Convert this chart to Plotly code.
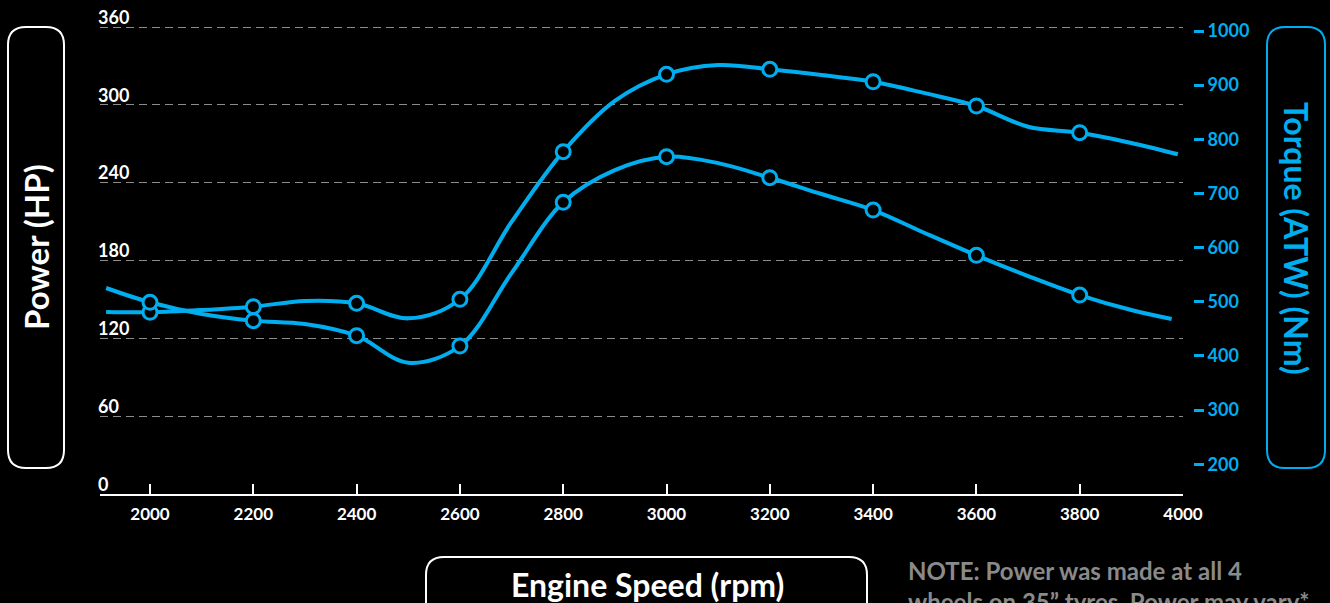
import plotly.graph_objects as go

# ---------------- data ----------------
rpm_line = [1915, 2000, 2100, 2200, 2300, 2400, 2500, 2600, 2700, 2800, 2900,
            3000, 3100, 3200, 3300, 3400, 3500, 3600, 3700, 3800, 3900]
power_hp = [140.3, 140.1, 141.8, 144.4, 148.8, 147.0, 135.4, 150.1, 209.7, 263.9, 303.0,
            323.5, 330.7, 327.4, 323.0, 317.8, 309.0, 299.1, 283.1, 278.5, 270.6]
torque_nm = [525.5, 499.1, 477.5, 465.1, 459.0, 437.4, 387.6, 418.4, 553.0, 683.7, 743.3,
             767.9, 756.0, 729.1, 699.0, 669.4, 627.0, 585.8, 547.6, 512.5, 484.8]
power_end = [3990, 261.9]
torque_end = [3978, 468.2]

marker_rpm = [2000, 2200, 2400, 2600, 2800, 3000, 3200, 3400, 3600, 3800]

x_ticks = [2000, 2200, 2400, 2600, 2800, 3000, 3200, 3400, 3600, 3800, 4000]
hp_ticks = [0, 60, 120, 180, 240, 300, 360]
nm_ticks = [200, 300, 400, 500, 600, 700, 800, 900, 1000]

BLUE = "#00AEEF"
FONT = "Lato"

# ---------------- geometry helpers (pixel -> paper) ----------------
W, H = 1330, 603
ML, MR, MT, MB = 100, 137, 4, 109
PW = W - ML - MR
PH = H - MT - MB


def px(x):
    return (x - ML) / PW


def py(y):
    return (H - MB - y) / PH


def rounded_rect(x0, y0, x1, y1, r):
    pts = [
        f"M {px(x0 + r)},{py(y0)}",
        f"L {px(x1 - r)},{py(y0)}",
        f"Q {px(x1)},{py(y0)} {px(x1)},{py(y0 + r)}",
        f"L {px(x1)},{py(y1 - r)}",
        f"Q {px(x1)},{py(y1)} {px(x1 - r)},{py(y1)}",
        f"L {px(x0 + r)},{py(y1)}",
        f"Q {px(x0)},{py(y1)} {px(x0)},{py(y1 - r)}",
        f"L {px(x0)},{py(y0 + r)}",
        f"Q {px(x0)},{py(y0)} {px(x0 + r)},{py(y0)}",
        "Z",
    ]
    return " ".join(pts)


p_x = rpm_line + [power_end[0]]
p_y = power_hp + [power_end[1]]
t_x = rpm_line + [torque_end[0]]
t_y = torque_nm + [torque_end[1]]

pm_y = [power_hp[rpm_line.index(r)] for r in marker_rpm]
tm_y = [torque_nm[rpm_line.index(r)] for r in marker_rpm]

fig = go.Figure()
fig.add_trace(go.Scatter(x=p_x, y=p_y, mode="lines", line=dict(color=BLUE, width=4, shape="spline", smoothing=1.0),
                         yaxis="y", showlegend=False, hoverinfo="skip"))
fig.add_trace(go.Scatter(x=t_x, y=t_y, mode="lines", line=dict(color=BLUE, width=4, shape="spline", smoothing=1.0),
                         yaxis="y2", showlegend=False, hoverinfo="skip"))
fig.add_trace(go.Scatter(x=marker_rpm, y=pm_y, mode="markers",
                         marker=dict(size=14, color="black", line=dict(color=BLUE, width=3)),
                         yaxis="y", showlegend=False, name="Power (HP)"))
fig.add_trace(go.Scatter(x=marker_rpm, y=tm_y, mode="markers",
                         marker=dict(size=14, color="black", line=dict(color=BLUE, width=3)),
                         yaxis="y2", showlegend=False, name="Torque (Nm)"))

x_left = 2000 - 50 / (1033 / 2000)
hp_scale = 467 / 360          # px per HP (0 at y=494, 360 at y=27)
nm_scale = (464.3 - 31) / 800  # px per Nm (200 at y=464.3, 1000 at y=31)

fig.update_layout(
    width=W, height=H,
    margin=dict(l=ML, r=MR, t=MT, b=MB, pad=0, autoexpand=False),
    paper_bgcolor="black", plot_bgcolor="black",
    showlegend=False,
    xaxis=dict(
        domain=[0, (1183 - ML) / PW],
        range=[x_left, 4000],
        tickvals=x_ticks, ticktext=[str(v) for v in x_ticks],
        showgrid=False, zeroline=False,
        showline=True, linecolor="white", linewidth=2,
        ticks="inside", ticklen=10, tickwidth=2, tickcolor="white",
        tickfont=dict(family=FONT, size=17, color="white", weight="bold"),
        ticklabelstandoff=4, automargin=False,
    ),
    yaxis=dict(
        range=[0, 360 + (27 - MT) / hp_scale],
        tickvals=hp_ticks, ticktext=[str(v) for v in hp_ticks],
        showgrid=True, gridcolor="#8c8c8c", gridwidth=1, griddash="8px,5px",
        zeroline=False, showline=False, ticks="",
        ticklabelposition="inside top", ticklabelstandoff=-5, ticklabelshift=3,
        ticklabeloverflow="allow", automargin=False,
        tickfont=dict(family=FONT, size=18, color="white", weight="bold"),
    ),
    yaxis2=dict(
        overlaying="y", side="right", anchor="free", position=1.0,
        range=[200 - (494 - 464.3) / nm_scale, 1000 + (31 - MT) / nm_scale],
        tickvals=nm_ticks, ticktext=[str(v) for v in nm_ticks],
        showgrid=False, zeroline=False, showline=False,
        ticks="outside", ticklen=10, tickwidth=3, tickcolor=BLUE, automargin=False,
        tickfont=dict(family=FONT, size=18, color=BLUE, weight="bold"),
    ),
    shapes=[
        dict(type="path", xref="paper", yref="paper", path=rounded_rect(8, 27, 64, 468, 18),
             line=dict(color="white", width=2), layer="above"),
        dict(type="path", xref="paper", yref="paper", path=rounded_rect(1267, 27, 1325, 468, 18),
             line=dict(color=BLUE, width=2), layer="above"),
        dict(type="path", xref="paper", yref="paper", path=rounded_rect(426, 557, 867, 640, 18),
             line=dict(color="white", width=2), layer="above"),
    ],
    annotations=[
        dict(text="Power (HP)", xref="paper", yref="paper", x=px(36), y=py(247), showarrow=False,
             textangle=-90, xanchor="center", yanchor="middle",
             font=dict(family=FONT, size=33, color="white", weight="bold")),
        dict(text="Torque (ATW) (Nm)", xref="paper", yref="paper", x=px(1296), y=py(238), showarrow=False,
             textangle=90, xanchor="center", yanchor="middle",
             font=dict(family=FONT, size=32, color=BLUE, weight="bold")),
        dict(text="Engine Speed (rpm)", xref="paper", yref="paper", x=px(647), y=py(584), showarrow=False,
             xanchor="center", yanchor="middle",
             font=dict(family=FONT, size=32, color="white", weight="bold")),
        dict(text="NOTE: Power was made at all 4<br>wheels on 35” tyres. Power may vary*",
             xref="paper", yref="paper", x=px(906), y=py(554), showarrow=False,
             xanchor="left", yanchor="top", align="left",
             font=dict(family=FONT, size=24, color="#8a8a8a", weight="bold")),
    ],
)

fig.write_html("out.html", config={"displayModeBar": False},
               post_script="document.body.style.margin='0';document.body.style.background='black';")
